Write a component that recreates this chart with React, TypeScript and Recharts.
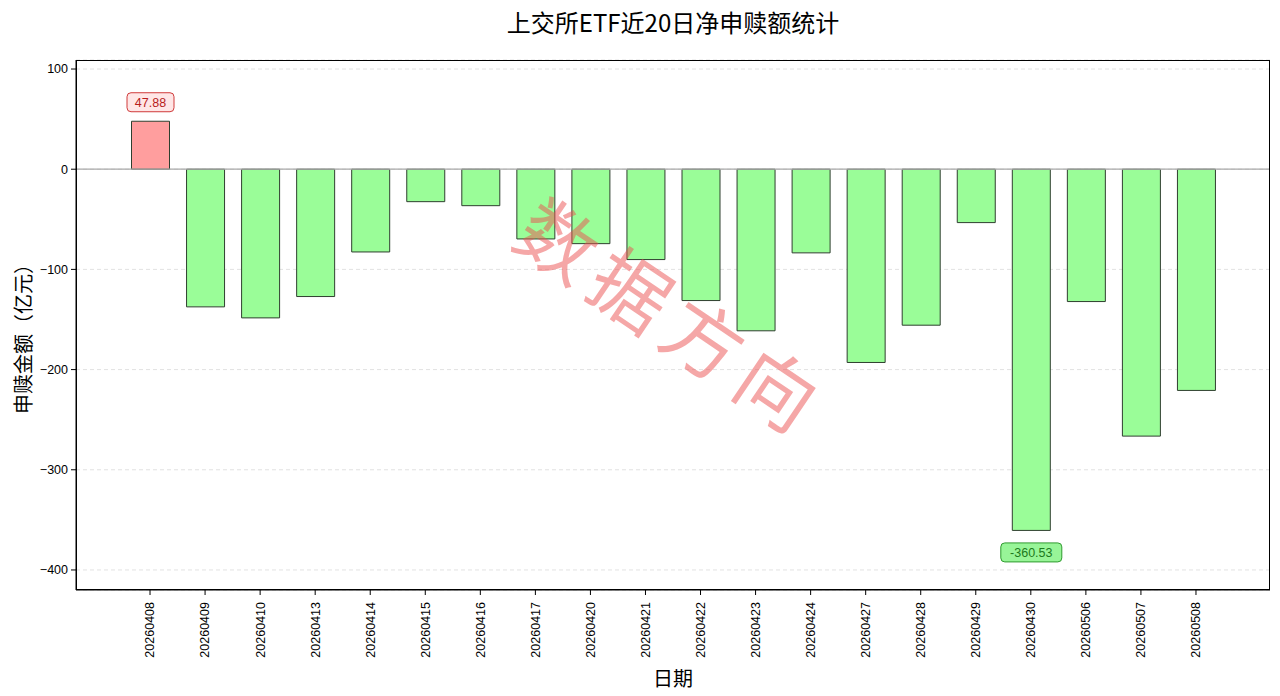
import { BarChart, Bar, XAxis, YAxis, CartesianGrid, ReferenceLine, Cell, LabelList } from "recharts";

const dates = [
  "20260408", "20260409", "20260410", "20260413", "20260414",
  "20260415", "20260416", "20260417", "20260420", "20260421",
  "20260422", "20260423", "20260424", "20260427", "20260428",
  "20260429", "20260430", "20260506", "20260507", "20260508",
];

const netFlow = [
  47.88, -137.4, -148.4, -127.1, -82.6,
  -32.4, -36.4, -69.6, -74.3, -90.2,
  -131.1, -161.3, -83.5, -192.9, -155.7,
  -53.3, -360.53, -132.1, -266.4, -220.8,
];

const yTicks = [100, 0, -100, -200, -300, -400];

const rows = dates.map((d, i) => ({ date: d, value: netFlow[i] }));

const maxIdx = netFlow.indexOf(Math.max(...netFlow));
const minIdx = netFlow.indexOf(Math.min(...netFlow));

const tickFont = "'Liberation Sans', Arial, sans-serif";
const cjkFont = "'Noto Sans CJK SC', 'Noto Sans', sans-serif";

// plot box, used for the matplotlib-style frame
const M = { top: 60, right: 10, bottom: 106, left: 76 };
const W = 1280;
const H = 696;

const DateTick = (props: any) => {
  const { x, y, payload } = props;
  return (
    <text
      x={x}
      y={y + 5}
      transform={`rotate(-90, ${x}, ${y + 5})`}
      textAnchor="end"
      dy="0.35em"
      fontSize={12.5}
      fontFamily={tickFont}
      fill="#000"
    >
      {payload.value}
    </text>
  );
};

const ValueTick = (props: any) => {
  const { x, y, payload } = props;
  const txt = payload.value < 0 ? `\u2212${Math.abs(payload.value)}` : `${payload.value}`;
  return (
    <text x={x} y={y} textAnchor="end" dy="0.35em" fontSize={12.5} fontFamily={tickFont} fill="#000">
      {txt}
    </text>
  );
};

const ExtremeLabel = (props: any) => {
  const { x, y, width, height, value, index } = props;
  if (index !== maxIdx && index !== minIdx) return null;
  const pos = value >= 0;
  const top = Math.min(y, y + height);
  const bottom = Math.max(y, y + height);
  const cx = x + width / 2;
  const cy = pos ? top - 19 : bottom + 22;
  const text = value.toFixed(2);
  const w = text.length * 7 + 12;
  const h = 19;
  return (
    <g>
      <rect
        x={cx - w / 2}
        y={cy - h / 2}
        width={w}
        height={h}
        rx={4}
        fill={pos ? "#ffe6e6" : "#98f598"}
        stroke={pos ? "#d03a3a" : "#2e9a2e"}
        strokeWidth={1}
      />
      <text
        x={cx}
        y={cy}
        textAnchor="middle"
        dy="0.36em"
        fontSize={12.5}
        fontFamily={tickFont}
        fill={pos ? "#b81c1c" : "#1c7a1c"}
      >
        {text}
      </text>
    </g>
  );
};

export default function App() {
  return (
    <div style={{ position: "absolute", left: 0, top: 0, width: W, height: H, background: "#fff", overflow: "hidden" }}>
      <div
        style={{
          position: "absolute",
          left: M.left,
          width: W - M.left - M.right,
          top: 7,
          textAlign: "center",
          fontFamily: cjkFont,
          fontSize: 24,
          lineHeight: "30px",
          color: "#000",
        }}
      >
        上交所ETF近20日净申赎额统计
      </div>
      <BarChart width={W} height={H} data={rows} margin={{ top: M.top, right: M.right, bottom: 0, left: 0 }}>
        <CartesianGrid horizontal vertical={false} stroke="#e2e2e2" strokeDasharray="4 3" />
        <XAxis
          dataKey="date"
          interval={0}
          height={M.bottom}
          padding={{ left: 46.5, right: 46.5 }}
          tick={<DateTick />}
          tickSize={5}
          tickLine={{ stroke: "#000" }}
          axisLine={{ stroke: "#000" }}
        />
        <YAxis
          domain={[-420, 109]}
          ticks={yTicks}
          allowDataOverflow
          width={M.left}
          tick={<ValueTick />}
          tickSize={5}
          tickMargin={3}
          tickLine={{ stroke: "#000" }}
          axisLine={{ stroke: "#000" }}
        />
        <ReferenceLine y={0} stroke="#a8a8a8" strokeWidth={1.2} />
        <Bar dataKey="value" barSize={38} isAnimationActive={false} stroke="#2f3f2f" strokeWidth={1}>
          {rows.map((r, i) => (
            <Cell key={i} fill={r.value >= 0 ? "#ff9e9e" : "#9afd98"} />
          ))}
          <LabelList dataKey="value" content={<ExtremeLabel />} />
        </Bar>
      </BarChart>
      <div
        style={{
          position: "absolute",
          left: M.left,
          top: M.top,
          width: W - M.left - M.right,
          height: H - M.top - M.bottom,
          boxSizing: "border-box",
          border: "1.2px solid #000",
          pointerEvents: "none",
        }}
      />
      <div
        style={{
          position: "absolute",
          left: 22,
          top: 334,
          transform: "translate(-50%, -50%) rotate(-90deg)",
          whiteSpace: "nowrap",
          fontFamily: cjkFont,
          fontSize: 20,
          color: "#000",
        }}
      >
        申赎金额（亿元）
      </div>
      <div
        style={{
          position: "absolute",
          left: 673,
          top: 677,
          transform: "translate(-50%, -50%)",
          whiteSpace: "nowrap",
          fontFamily: cjkFont,
          fontSize: 20,
          color: "#000",
        }}
      >
        日期
      </div>
      <div
        style={{
          position: "absolute",
          left: 674,
          top: 314,
          transform: "translate(-50%, -50%) rotate(34deg)",
          whiteSpace: "nowrap",
          fontFamily: cjkFont,
          fontSize: 78,
          letterSpacing: 10,
          color: "rgba(235, 80, 80, 0.5)",
          pointerEvents: "none",
        }}
      >
        数据方向
      </div>
    </div>
  );
}
